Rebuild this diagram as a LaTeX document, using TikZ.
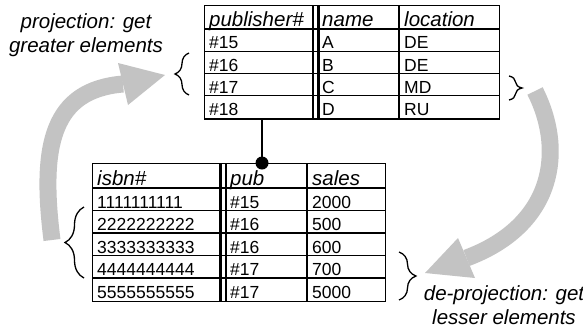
\documentclass[tikz,border=0pt]{standalone}
\usepackage{fontspec}
\setmainfont{Liberation Sans}
\usetikzlibrary{decorations.pathreplacing}
\definecolor{arrowgray}{RGB}{195,195,195}
\tikzset{
  cell/.style={anchor=base west, inner sep=0pt, font=\fontsize{17.5}{17.5}\selectfont},
  head/.style={anchor=base west, inner sep=0pt, font=\fontsize{20.5}{20.5}\selectfont\itshape},
  tabframe/.style={draw, line width=1.4pt, inner sep=0pt, anchor=north west},
  gridline/.style={line width=1.1pt},
  dbl/.style={line width=2.6pt},
  lbl/.style={align=center, font=\fontsize{20.5}{23.5}\selectfont\itshape, inner sep=0pt},
  brc/.style={decorate, decoration={brace, amplitude=#1}, line width=1.3pt},
  bigarrow/.style={line width=17pt, draw=arrowgray},
}
\begin{document}
\begin{tikzpicture}[x=1pt,y=-1pt]
\useasboundingbox (0,0) rectangle (583,327);

% ---------- gray arrows ----------
\coordinate (pa0) at (52,240);
\coordinate (pa1) at (123,84);
\draw[bigarrow] (pa0) .. controls (40,145) and (52,90) .. (pa1);
\fill[arrowgray] (118,63) -- (165,75) -- (128,105) -- cycle;

\coordinate (da0) at (535,91);
\coordinate (da1) at (466.5,258);
\draw[bigarrow] (da0) .. controls (565,150) and (555,225) .. (da1);
\fill[arrowgray] (458,238) -- (425,273) -- (475,278) -- cycle;

% ---------- publisher table ----------
\node[tabframe, minimum width=295pt, minimum height=113.2pt] (pubtab) at (204,5) {};
\foreach \y in {29,51.3,73.6,95.9} \draw[gridline] (204,\y) -- (499,\y);
\draw[dbl] (313,5) -- (313,118.2);
\draw[dbl] (318.5,5) -- (318.5,118.2);
\draw[gridline] (399,5) -- (399,118.2);

\node[head] (p00) at (209,26) {publisher\#};
\node[head] (p01) at (322,26) {name};
\node[head] (p02) at (404,26) {location};
\foreach \r/\y/\a/\b/\c in {1/48.8/\#15/A/DE, 2/71.1/\#16/B/DE, 3/93.4/\#17/C/MD, 4/115.7/\#18/D/RU} {
  \node[cell] (p\r0) at (209,\y) {\a};
  \node[cell] (p\r1) at (322,\y) {\b};
  \node[cell] (p\r2) at (404,\y) {\c};
}

% ---------- book table ----------
\node[tabframe, minimum width=293pt, minimum height=137.5pt] (booktab) at (92,163) {};
\foreach \y in {188,210.5,233,255.5,278} \draw[gridline] (92,\y) -- (385,\y);
\draw[dbl] (220.5,163) -- (220.5,300.5);
\draw[dbl] (226,163) -- (226,300.5);
\draw[gridline] (307,163) -- (307,300.5);

\node[head] (b00) at (97,185) {isbn\#};
\node[head] (b01) at (230,185) {pub};
\node[head] (b02) at (312,185) {sales};
\foreach \r/\y/\a/\b/\c in {1/208/1111111111/\#15/2000, 2/230.5/2222222222/\#16/500, 3/253/3333333333/\#16/600, 4/275.5/4444444444/\#17/700, 5/298/5555555555/\#17/5000} {
  \node[cell] (b\r0) at (97,\y) {\a};
  \node[cell] (b\r1) at (230,\y) {\b};
  \node[cell] (b\r2) at (312,\y) {\c};
}

% ---------- foreign key connector ----------
\coordinate (fkx) at (262,0);
\draw[line width=1.5pt] (pubtab.south -| fkx) -- (booktab.north -| fkx);
\fill (booktab.north -| fkx) circle (6.5pt);

% ---------- braces ----------
\draw[brc=14pt] (189,95) -- (189,53);
\draw[brc=13pt] (509,76) -- (509,100);
\draw[brc=19pt] (84,278) -- (84,207);
\draw[brc=17pt] (399,252) -- (399,300);

% ---------- labels ----------
\node[lbl] (projlbl) at (86,35) {projection: get\\greater elements};
\node[lbl] (deprojlbl) at (504,305) {de-projection: get\\lesser elements};
\end{tikzpicture}
\end{document}
